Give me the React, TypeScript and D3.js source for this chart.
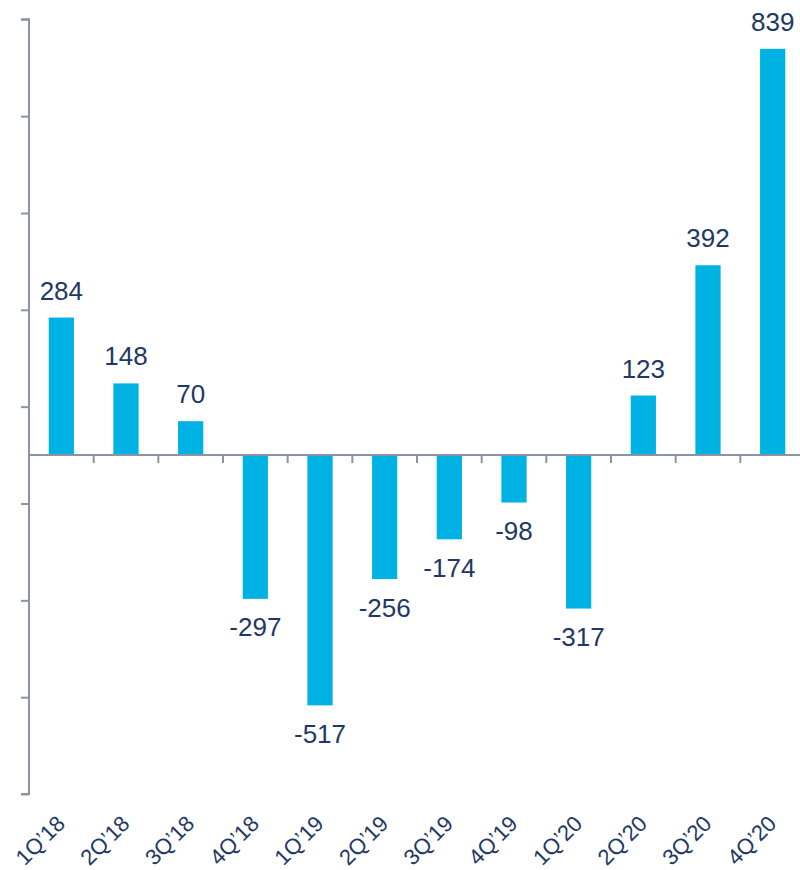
import * as React from 'react';
import * as d3 from 'd3';

const quarters = ['1Q’18', '2Q’18', '3Q’18', '4Q’18', '1Q’19', '2Q’19', '3Q’19', '4Q’19', '1Q’20', '2Q’20', '3Q’20', '4Q’20'];
const values = [284, 148, 70, -297, -517, -256, -174, -98, -317, 123, 392, 839];
const yTicks = [-700, -500, -300, -100, 100, 300, 500, 700, 900];

const width = 800;
const height = 870;
const barColor = '#00B2E3';
const textColor = '#1F3864';
const axisColor = '#8C94A1';
const font = '"Liberation Sans", Arial, sans-serif';

const App: React.FC = () => {
  const svgRef = React.useRef<SVGSVGElement>(null);

  React.useEffect(() => {
    const svg = d3.select(svgRef.current);
    svg.selectAll('*').remove();

    const x = d3.scaleBand<string>()
      .domain(quarters)
      .range([29, 805])
      .paddingInner(0.61)
      .paddingOuter(0.305);

    const y = d3.scaleLinear()
      .domain([-700, 900])
      .range([794, 19.3]);

    // band boundaries for category ticks on the zero line
    const step = x.step();
    const x0 = 29;

    // y axis
    const yAxis = d3.axisLeft(y).tickValues(yTicks).tickSize(8).tickFormat(() => '');
    const gy = svg.append('g')
      .attr('transform', 'translate(29,0)')
      .call(yAxis);
    gy.selectAll('path, line').attr('stroke', axisColor).attr('stroke-width', 2);
    gy.select('.domain').attr('d', `M-8,${y(-700)}H0V${y(900)}H-8`);

    // bars
    svg.append('g')
      .selectAll('rect')
      .data(values)
      .enter()
      .append('rect')
        .attr('x', (d, i) => x(quarters[i])!)
        .attr('width', x.bandwidth())
        .attr('y', d => Math.min(y(d), y(0)))
        .attr('height', d => Math.abs(y(d) - y(0)))
        .attr('fill', barColor);

    // zero line with category ticks
    const zero = svg.append('g').attr('transform', `translate(0,${y(0)})`);
    zero.append('line')
      .attr('x1', x0).attr('x2', width)
      .attr('stroke', axisColor).attr('stroke-width', 2);
    zero.selectAll('line.tick')
      .data(d3.range(1, quarters.length))
      .enter()
      .append('line')
        .attr('class', 'tick')
        .attr('x1', i => x0 + i * step)
        .attr('x2', i => x0 + i * step)
        .attr('y1', 0).attr('y2', 8)
        .attr('stroke', axisColor).attr('stroke-width', 2);

    // value labels
    svg.append('g')
      .selectAll('text')
      .data(values)
      .enter()
      .append('text')
        .attr('x', (d, i) => x(quarters[i])! + x.bandwidth() / 2)
        .attr('y', d => d >= 0 ? y(d) - 18 : y(d) + 37.5)
        .attr('text-anchor', 'middle')
        .attr('font-family', font)
        .attr('font-size', 26)
        .attr('fill', textColor)
        .text(d => d);

    // category labels
    svg.append('g')
      .selectAll('text')
      .data(quarters)
      .enter()
      .append('text')
        .attr('transform', d => `translate(${x(d)! + x.bandwidth() / 2 + 5},825) rotate(-45)`)
        .attr('text-anchor', 'end')
        .attr('font-family', font)
        .attr('font-size', 22)
        .attr('fill', textColor)
        .text(d => d);
  }, []);

  return (
    <svg
      ref={svgRef}
      width={width}
      height={height}
      style={{ position: 'absolute', left: 0, top: 0, background: '#fff' }}
    ></svg>
  );
};

export default App;
